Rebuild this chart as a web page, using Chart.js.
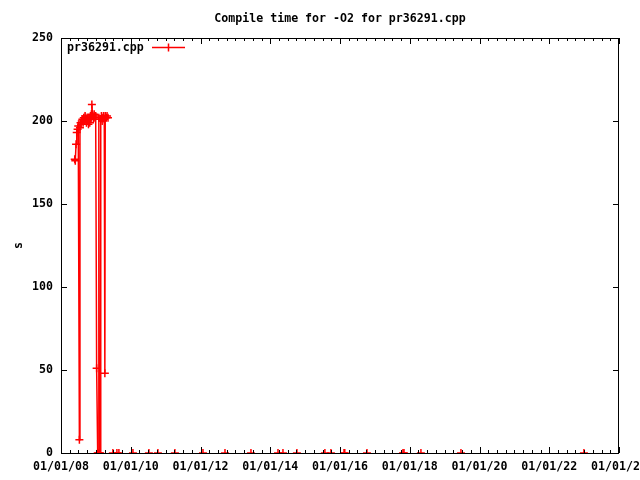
<!DOCTYPE html>
<html lang="en">
<head>
<meta charset="UTF-8">
<title>Compile time for -O2 for pr36291.cpp</title>
<script src="https://cdn.jsdelivr.net/npm/chart.js"></script>
<style>
  body { margin: 0; background: #fff; }
  #timeChart { display: block; }
</style>
</head>
<body>
<canvas id="timeChart" width="640" height="480"></canvas>
<script>
// run dates and compile time (s); null = break in the line
const runDates = [
  '2008-05-24', '2008-05-30', '2008-06-07', '2008-06-14', '2008-06-23', '2008-06-30',
  '2008-07-12', '2008-07-18', '2008-07-24', '2008-07-30', '2008-08-06',
  '2008-08-13', '2008-08-20', '2008-08-27', '2008-09-03', '2008-09-10', '2008-09-17',
  '2008-09-24', '2008-10-01', '2008-10-08', '2008-10-15', '2008-10-22', '2008-10-29',
  '2008-11-05', '2008-11-10', '2008-11-15', '2008-11-20', '2008-11-28', '2008-12-06',
  '2008-12-14', '2008-12-22', '2008-12-30', '2009-01-09', '2009-01-20',
  '2009-01-26', '2009-02-01', '2009-02-07', '2009-02-15', '2009-02-21', '2009-02-28',
  '2009-03-08', '2009-03-15', '2009-03-22', '2009-03-30', '2009-04-05', '2009-04-09',
  '2009-04-20', '2009-04-28', '2009-05-08', '2009-05-19',
  '2009-06-28', '2009-08-09', '2009-08-30', '2010-01-24', '2010-07-10', '2010-10-12',
  '2011-04-08', '2012-01-27', '2012-09-14', '2013-06-13', '2014-03-23', '2014-05-14',
  '2014-10-07', '2015-07-27', '2015-09-28', '2016-02-12', '2016-02-20', '2016-10-10',
  '2017-10-22', '2017-11-02', '2018-04-28', '2019-06-21', '2022-12-30'
];
const seconds = [
  177, 176, 186, 193, 195, 197,
  8, 196, 199, 198, 200,
  201, 199, 202, 200, 203, 201,
  199, 202, 200, 198, 201, 199,
  203, 202, 204, 210, 203, 201,
  204, 202, 203, 51, 0,
  0, 202, 0, 0, 201, 203,
  200, 202, 203, 201, 48, 203,
  202, 203, 202, null,
  0, 0, 0, 0, 0, 0,
  0, 0, 0, 0, 0, 0,
  0, 0, 0, 0, 0, 0,
  0, 0, 0, 0, 0
];
const xLabelYears = [2008, 2010, 2012, 2014, 2016, 2018, 2020, 2022, 2024];
const yTicks = [0, 50, 100, 150, 200, 250];

const seriesName = 'pr36291.cpp';
const chartTitle = 'Compile time for -O2 for pr36291.cpp';
const FONT = 'bold 11.6px "DejaVu Sans Mono"';

// date string -> fractional year for the linear x axis
function toYear(s) {
  const d = new Date(s + 'T00:00:00Z');
  const y = d.getUTCFullYear();
  const start = Date.UTC(y, 0, 1), end = Date.UTC(y + 1, 0, 1);
  return y + (d.getTime() - start) / (end - start);
}

const points = runDates.map((d, i) => ({ x: toYear(d), y: seconds[i] }));

function isLabelTick(v) {
  const yr = Math.round(v);
  return Math.abs(v - yr) < 1e-6 && xLabelYears.includes(yr);
}

// gnuplot-like frame: border + inward ticks, drawn over the data
const frame = {
  id: 'frame',
  afterDatasetsDraw(chart) {
    const { ctx, chartArea: a, scales: { x, y } } = chart;
    ctx.save();
    ctx.strokeStyle = '#000';
    ctx.lineWidth = 1;
    ctx.beginPath();
    ctx.rect(a.left + 0.5, a.top + 0.5, a.right - a.left - 1, a.bottom - a.top);
    x.ticks.forEach(t => {
      const px = Math.round(x.getPixelForValue(t.value)) + 0.5;
      const len = isLabelTick(t.value) ? 6 : 3;
      ctx.moveTo(px, a.bottom); ctx.lineTo(px, a.bottom - len);
      ctx.moveTo(px, a.top); ctx.lineTo(px, a.top + len);
    });
    y.ticks.forEach(t => {
      const py = Math.round(y.getPixelForValue(t.value)) + 0.5;
      ctx.moveTo(a.left, py); ctx.lineTo(a.left + 6, py);
      ctx.moveTo(a.right, py); ctx.lineTo(a.right - 6, py);
    });
    ctx.stroke();
    ctx.restore();
  },
  afterDraw(chart) {
    const { ctx, chartArea: a } = chart;
    const ds = chart.data.datasets[0];
    ctx.save();
    ctx.fillStyle = '#000';
    ctx.font = FONT;
    ctx.textBaseline = 'middle';
    // title
    ctx.textAlign = 'center';
    ctx.fillText(chartTitle, (a.left + a.right) / 2, 19);
    // y label
    ctx.save();
    ctx.translate(19, (a.top + a.bottom) / 2);
    ctx.rotate(-Math.PI / 2);
    ctx.fillText('s', 0, 0);
    ctx.restore();
    // key, top left inside the plot
    ctx.textAlign = 'left';
    ctx.fillText(ds.label, a.left + 6, a.top + 10);
    ctx.strokeStyle = ds.borderColor;
    ctx.lineWidth = 1.5;
    ctx.beginPath();
    ctx.moveTo(152, a.top + 9.5); ctx.lineTo(185, a.top + 9.5);
    ctx.moveTo(168.5, a.top + 5.5); ctx.lineTo(168.5, a.top + 13.5);
    ctx.stroke();
    ctx.restore();
  }
};

new Chart(document.getElementById('timeChart'), {
  type: 'line',
  data: {
    datasets: [{
      label: seriesName,
      data: points,
      borderColor: '#ff0000',
      backgroundColor: '#ff0000',
      borderWidth: 1.5,
      pointStyle: 'cross',
      pointRadius: 4,
      pointBorderWidth: 1.5,
      spanGaps: false,
      fill: false,
      tension: 0,
      // runs of zeros lie on the bottom border, gnuplot hides them there
      segment: {
        borderColor: c => (c.p0.parsed.y === 0 && c.p1.parsed.y === 0) ? 'rgba(0,0,0,0)' : undefined
      }
    }]
  },
  options: {
    responsive: false,
    animation: false,
    events: [],
    layout: { padding: { top: 38, right: 21, left: 0, bottom: 0 } },
    plugins: {
      legend: { display: false },
      tooltip: { enabled: false },
      title: { display: false }
    },
    scales: {
      x: {
        type: 'linear',
        min: 2008,
        max: 2024,
        grid: { display: false, drawTicks: false },
        border: { display: false },
        ticks: {
          stepSize: 0.25,
          maxTicksLimit: 200,
          autoSkip: false,
          maxRotation: 0,
          minRotation: 0,
          padding: 7,
          color: '#000',
          font: { family: 'DejaVu Sans Mono', size: 11.6, weight: 'bold' },
          callback: v => isLabelTick(v) ? '01/01/' + String(Math.round(v) % 100).padStart(2, '0') : ''
        },
        afterFit: s => { s.height = 27; s.paddingLeft = 0; s.paddingRight = 0; }
      },
      y: {
        min: 0,
        max: 250,
        grid: { display: false, drawTicks: false },
        border: { display: false },
        afterBuildTicks: s => { s.ticks = yTicks.map(v => ({ value: v })); },
        ticks: {
          padding: 8,
          color: '#000',
          font: { family: 'DejaVu Sans Mono', size: 11.6, weight: 'bold' }
        },
        afterFit: s => { s.width = 61; s.paddingTop = 0; s.paddingBottom = 0; }
      }
    }
  },
  plugins: [frame]
});
</script>
</body>
</html>
